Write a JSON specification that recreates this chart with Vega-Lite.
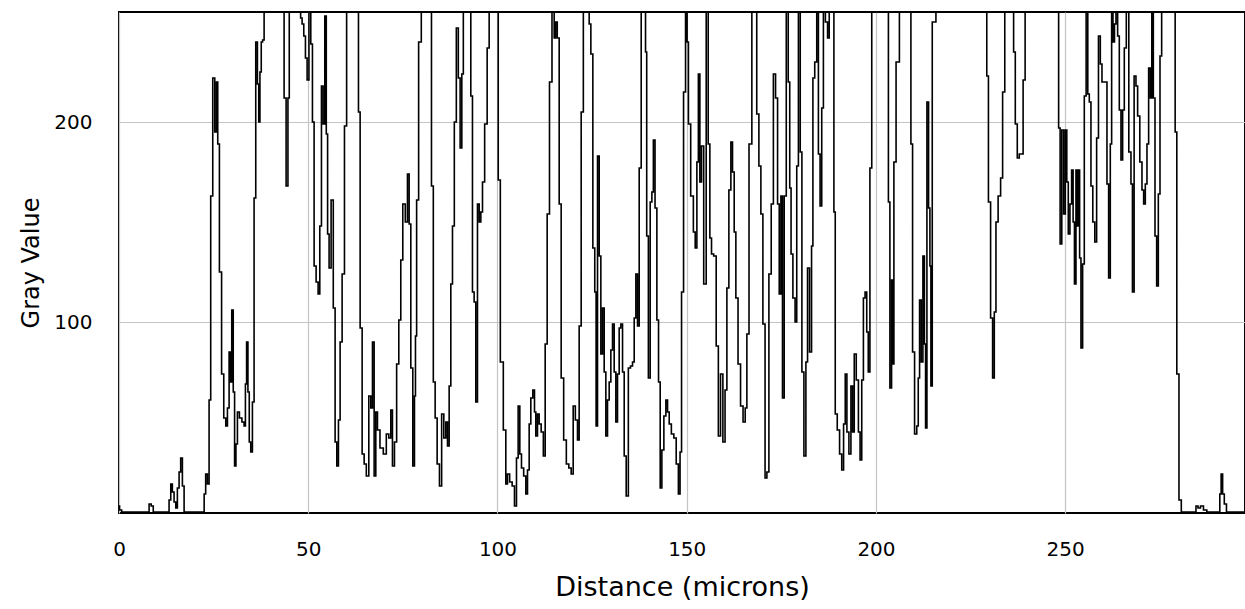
{
  "$schema": "https://vega.github.io/schema/vega-lite/v6.json",
  "width": 1126,
  "height": 501,
  "autosize": {"type": "none"},
  "padding": {"left": 119, "top": 12, "right": 0, "bottom": 96},
  "background": "white",
  "config": {
    "view": {"stroke": "black", "strokeWidth": 2},
    "axis": {
      "domain": false,
      "ticks": false,
      "tickSize": 0,
      "grid": true,
      "gridColor": "#c4c4c4",
      "gridWidth": 1.2,
      "labelFont": "DejaVu Sans",
      "labelFontSize": 20,
      "labelColor": "black",
      "titleFont": "DejaVu Sans",
      "titleFontWeight": "normal",
      "titleColor": "black"
    }
  },
  "data": {
    "values": [
      {"distance": 0, "gray": 8}, {"distance": 0.3, "gray": 6}, {"distance": 1.1, "gray": 5}, {"distance": 7.7, "gray": 5},
      {"distance": 8.2, "gray": 9}, {"distance": 8.8, "gray": 8}, {"distance": 9.3, "gray": 5}, {"distance": 13.0, "gray": 5},
      {"distance": 13.45, "gray": 11}, {"distance": 13.9, "gray": 19}, {"distance": 14.3, "gray": 15}, {"distance": 14.8, "gray": 10},
      {"distance": 15.2, "gray": 7}, {"distance": 15.65, "gray": 17}, {"distance": 16.1, "gray": 25}, {"distance": 16.5, "gray": 32},
      {"distance": 17.0, "gray": 18}, {"distance": 17.4, "gray": 5}, {"distance": 22.3, "gray": 5}, {"distance": 22.7, "gray": 14},
      {"distance": 23.1, "gray": 24}, {"distance": 23.6, "gray": 19}, {"distance": 24.0, "gray": 61}, {"distance": 24.46, "gray": 163},
      {"distance": 25.08, "gray": 222}, {"distance": 25.52, "gray": 195}, {"distance": 25.96, "gray": 220}, {"distance": 26.22, "gray": 189},
      {"distance": 26.84, "gray": 125}, {"distance": 27.37, "gray": 74}, {"distance": 27.99, "gray": 52}, {"distance": 28.43, "gray": 48},
      {"distance": 28.87, "gray": 57}, {"distance": 29.31, "gray": 85}, {"distance": 29.57, "gray": 70}, {"distance": 30.01, "gray": 106},
      {"distance": 30.36, "gray": 65}, {"distance": 30.72, "gray": 28}, {"distance": 31.07, "gray": 39}, {"distance": 31.51, "gray": 55},
      {"distance": 32.12, "gray": 52}, {"distance": 32.83, "gray": 50}, {"distance": 33.27, "gray": 48}, {"distance": 33.53, "gray": 69},
      {"distance": 33.89, "gray": 90}, {"distance": 34.24, "gray": 65}, {"distance": 34.59, "gray": 40}, {"distance": 35.03, "gray": 35},
      {"distance": 35.47, "gray": 60}, {"distance": 35.91, "gray": 162}, {"distance": 36.35, "gray": 240}, {"distance": 36.79, "gray": 219},
      {"distance": 37.06, "gray": 200}, {"distance": 37.41, "gray": 225}, {"distance": 37.76, "gray": 240}, {"distance": 38.12, "gray": 241},
      {"distance": 38.56, "gray": 255}, {"distance": 43.4, "gray": 255}, {"distance": 43.84, "gray": 212}, {"distance": 44.46, "gray": 168},
      {"distance": 44.81, "gray": 212}, {"distance": 45.16, "gray": 255}, {"distance": 47.81, "gray": 255}, {"distance": 48.16, "gray": 252},
      {"distance": 48.6, "gray": 249}, {"distance": 49.04, "gray": 243}, {"distance": 49.48, "gray": 232}, {"distance": 49.92, "gray": 221},
      {"distance": 50.45, "gray": 255}, {"distance": 50.89, "gray": 239}, {"distance": 51.33, "gray": 200}, {"distance": 51.77, "gray": 128},
      {"distance": 52.39, "gray": 120}, {"distance": 52.83, "gray": 114}, {"distance": 53.27, "gray": 148}, {"distance": 53.71, "gray": 218},
      {"distance": 54.15, "gray": 199}, {"distance": 54.59, "gray": 253}, {"distance": 54.94, "gray": 194}, {"distance": 55.29, "gray": 144},
      {"distance": 55.73, "gray": 127}, {"distance": 56.35, "gray": 161}, {"distance": 56.88, "gray": 107}, {"distance": 57.32, "gray": 40},
      {"distance": 57.76, "gray": 28}, {"distance": 58.2, "gray": 51}, {"distance": 58.64, "gray": 90}, {"distance": 59.26, "gray": 124},
      {"distance": 59.88, "gray": 198}, {"distance": 60.4, "gray": 255}, {"distance": 63.05, "gray": 255}, {"distance": 63.49, "gray": 205},
      {"distance": 63.93, "gray": 97}, {"distance": 64.55, "gray": 34}, {"distance": 64.99, "gray": 29}, {"distance": 65.69, "gray": 23},
      {"distance": 66.31, "gray": 63}, {"distance": 66.75, "gray": 57}, {"distance": 67.19, "gray": 90}, {"distance": 67.63, "gray": 23},
      {"distance": 68.07, "gray": 55}, {"distance": 68.51, "gray": 46}, {"distance": 69.39, "gray": 37}, {"distance": 70.27, "gray": 34},
      {"distance": 70.98, "gray": 44}, {"distance": 71.59, "gray": 42}, {"distance": 72.03, "gray": 56}, {"distance": 72.47, "gray": 28},
      {"distance": 73.09, "gray": 40}, {"distance": 73.62, "gray": 79}, {"distance": 74.23, "gray": 101}, {"distance": 74.67, "gray": 131},
      {"distance": 75.29, "gray": 159}, {"distance": 75.99, "gray": 150}, {"distance": 76.44, "gray": 174}, {"distance": 76.88, "gray": 149},
      {"distance": 77.32, "gray": 77}, {"distance": 77.93, "gray": 28}, {"distance": 78.2, "gray": 63}, {"distance": 78.46, "gray": 93},
      {"distance": 78.81, "gray": 161}, {"distance": 79.52, "gray": 240}, {"distance": 80.22, "gray": 255}, {"distance": 82.34, "gray": 255},
      {"distance": 82.78, "gray": 168}, {"distance": 83.31, "gray": 70}, {"distance": 83.75, "gray": 52}, {"distance": 84.36, "gray": 29},
      {"distance": 84.98, "gray": 18}, {"distance": 85.51, "gray": 54}, {"distance": 86.13, "gray": 42}, {"distance": 86.57, "gray": 50},
      {"distance": 87.01, "gray": 38}, {"distance": 87.45, "gray": 68}, {"distance": 87.89, "gray": 119}, {"distance": 88.33, "gray": 148},
      {"distance": 88.86, "gray": 200}, {"distance": 89.39, "gray": 247}, {"distance": 89.91, "gray": 222}, {"distance": 90.35, "gray": 187},
      {"distance": 90.8, "gray": 224}, {"distance": 91.15, "gray": 255}, {"distance": 92.73, "gray": 255}, {"distance": 93.17, "gray": 213},
      {"distance": 93.61, "gray": 115}, {"distance": 94.05, "gray": 110}, {"distance": 94.49, "gray": 60}, {"distance": 94.94, "gray": 159},
      {"distance": 95.38, "gray": 150}, {"distance": 95.82, "gray": 155}, {"distance": 96.26, "gray": 170}, {"distance": 96.96, "gray": 199},
      {"distance": 97.58, "gray": 237}, {"distance": 98.02, "gray": 255}, {"distance": 100.0, "gray": 255}, {"distance": 100.4, "gray": 171},
      {"distance": 101.1, "gray": 80}, {"distance": 101.98, "gray": 46}, {"distance": 102.42, "gray": 19}, {"distance": 102.86, "gray": 24},
      {"distance": 103.57, "gray": 20}, {"distance": 104.18, "gray": 18}, {"distance": 104.8, "gray": 8}, {"distance": 105.24, "gray": 32},
      {"distance": 105.68, "gray": 58}, {"distance": 106.12, "gray": 34}, {"distance": 106.56, "gray": 27}, {"distance": 107.27, "gray": 23},
      {"distance": 107.71, "gray": 14}, {"distance": 108.15, "gray": 26}, {"distance": 108.59, "gray": 49}, {"distance": 109.03, "gray": 62},
      {"distance": 109.65, "gray": 66}, {"distance": 109.91, "gray": 55}, {"distance": 110.35, "gray": 43}, {"distance": 110.79, "gray": 54},
      {"distance": 111.23, "gray": 49}, {"distance": 111.85, "gray": 45}, {"distance": 112.38, "gray": 33}, {"distance": 112.82, "gray": 89},
      {"distance": 113.43, "gray": 154}, {"distance": 114.05, "gray": 220}, {"distance": 114.75, "gray": 255}, {"distance": 115.2, "gray": 242},
      {"distance": 115.5, "gray": 250}, {"distance": 116.08, "gray": 242}, {"distance": 116.52, "gray": 159}, {"distance": 117.13, "gray": 72},
      {"distance": 117.84, "gray": 41}, {"distance": 118.54, "gray": 29}, {"distance": 119.16, "gray": 27}, {"distance": 119.78, "gray": 24},
      {"distance": 120.22, "gray": 58}, {"distance": 120.92, "gray": 51}, {"distance": 121.36, "gray": 41}, {"distance": 121.8, "gray": 98},
      {"distance": 122.42, "gray": 205}, {"distance": 122.95, "gray": 255}, {"distance": 124.0, "gray": 255}, {"distance": 124.45, "gray": 249},
      {"distance": 124.89, "gray": 234}, {"distance": 125.5, "gray": 137}, {"distance": 125.9, "gray": 115}, {"distance": 126.21, "gray": 48},
      {"distance": 126.65, "gray": 183}, {"distance": 127.09, "gray": 133}, {"distance": 127.53, "gray": 84}, {"distance": 127.97, "gray": 107},
      {"distance": 128.41, "gray": 75}, {"distance": 128.85, "gray": 43}, {"distance": 129.29, "gray": 61}, {"distance": 129.73, "gray": 70},
      {"distance": 130.17, "gray": 86}, {"distance": 130.61, "gray": 99}, {"distance": 131.05, "gray": 75}, {"distance": 131.49, "gray": 50},
      {"distance": 131.93, "gray": 74}, {"distance": 132.37, "gray": 97}, {"distance": 132.82, "gray": 99}, {"distance": 133.26, "gray": 75},
      {"distance": 133.7, "gray": 33}, {"distance": 134.31, "gray": 13}, {"distance": 134.84, "gray": 77}, {"distance": 135.46, "gray": 78},
      {"distance": 135.9, "gray": 80}, {"distance": 136.34, "gray": 102}, {"distance": 136.78, "gray": 124}, {"distance": 137.22, "gray": 98},
      {"distance": 137.66, "gray": 177}, {"distance": 138.28, "gray": 255}, {"distance": 138.98, "gray": 255}, {"distance": 139.25, "gray": 235},
      {"distance": 139.6, "gray": 143}, {"distance": 140.13, "gray": 72}, {"distance": 140.57, "gray": 160}, {"distance": 141.01, "gray": 165},
      {"distance": 141.36, "gray": 191}, {"distance": 141.89, "gray": 157}, {"distance": 142.33, "gray": 101}, {"distance": 142.77, "gray": 70},
      {"distance": 143.21, "gray": 17}, {"distance": 143.65, "gray": 36}, {"distance": 144.27, "gray": 53}, {"distance": 144.71, "gray": 61},
      {"distance": 145.15, "gray": 55}, {"distance": 145.59, "gray": 49}, {"distance": 146.29, "gray": 44}, {"distance": 146.91, "gray": 42},
      {"distance": 147.53, "gray": 29}, {"distance": 148.06, "gray": 14}, {"distance": 148.41, "gray": 35}, {"distance": 148.85, "gray": 115},
      {"distance": 149.47, "gray": 215}, {"distance": 149.9, "gray": 255}, {"distance": 150.3, "gray": 240}, {"distance": 150.6, "gray": 199},
      {"distance": 151.49, "gray": 163}, {"distance": 152.02, "gray": 145}, {"distance": 152.46, "gray": 137}, {"distance": 152.9, "gray": 180},
      {"distance": 153.25, "gray": 224}, {"distance": 153.69, "gray": 170}, {"distance": 154.13, "gray": 188}, {"distance": 154.84, "gray": 119},
      {"distance": 155.45, "gray": 255}, {"distance": 155.89, "gray": 189}, {"distance": 156.33, "gray": 142}, {"distance": 156.77, "gray": 134},
      {"distance": 157.48, "gray": 133}, {"distance": 158.09, "gray": 88}, {"distance": 158.62, "gray": 43}, {"distance": 159.24, "gray": 74},
      {"distance": 159.86, "gray": 40}, {"distance": 160.39, "gray": 66}, {"distance": 160.83, "gray": 117}, {"distance": 161.44, "gray": 166},
      {"distance": 161.88, "gray": 190}, {"distance": 162.32, "gray": 175}, {"distance": 162.76, "gray": 145}, {"distance": 163.2, "gray": 112},
      {"distance": 163.91, "gray": 79}, {"distance": 164.53, "gray": 58}, {"distance": 165.23, "gray": 50}, {"distance": 165.67, "gray": 57},
      {"distance": 166.11, "gray": 94}, {"distance": 166.8, "gray": 189}, {"distance": 167.61, "gray": 255}, {"distance": 168.23, "gray": 255},
      {"distance": 168.76, "gray": 204}, {"distance": 169.37, "gray": 178}, {"distance": 169.81, "gray": 154}, {"distance": 170.43, "gray": 99},
      {"distance": 170.96, "gray": 22}, {"distance": 171.4, "gray": 25}, {"distance": 172.02, "gray": 124}, {"distance": 172.63, "gray": 159},
      {"distance": 173.16, "gray": 224}, {"distance": 173.78, "gray": 212}, {"distance": 174.22, "gray": 159}, {"distance": 174.66, "gray": 114},
      {"distance": 175.1, "gray": 163}, {"distance": 175.5, "gray": 62}, {"distance": 176.0, "gray": 163}, {"distance": 176.6, "gray": 255},
      {"distance": 177.04, "gray": 220}, {"distance": 177.39, "gray": 167}, {"distance": 177.74, "gray": 134}, {"distance": 178.36, "gray": 112},
      {"distance": 178.89, "gray": 100}, {"distance": 179.24, "gray": 178}, {"distance": 179.77, "gray": 255}, {"distance": 180.21, "gray": 185},
      {"distance": 180.65, "gray": 75}, {"distance": 181.27, "gray": 33}, {"distance": 181.7, "gray": 80}, {"distance": 182.14, "gray": 127},
      {"distance": 182.76, "gray": 85}, {"distance": 183.2, "gray": 138}, {"distance": 183.47, "gray": 222}, {"distance": 184.17, "gray": 230},
      {"distance": 184.53, "gray": 255}, {"distance": 185.05, "gray": 184}, {"distance": 185.41, "gray": 158}, {"distance": 185.93, "gray": 207},
      {"distance": 186.29, "gray": 255}, {"distance": 186.99, "gray": 250}, {"distance": 187.43, "gray": 242}, {"distance": 187.87, "gray": 255},
      {"distance": 188.75, "gray": 255}, {"distance": 189.02, "gray": 155}, {"distance": 189.46, "gray": 54}, {"distance": 190.08, "gray": 46},
      {"distance": 190.69, "gray": 34}, {"distance": 191.22, "gray": 26}, {"distance": 191.66, "gray": 49}, {"distance": 192.1, "gray": 74},
      {"distance": 192.54, "gray": 45}, {"distance": 193.16, "gray": 34}, {"distance": 193.6, "gray": 68}, {"distance": 194.04, "gray": 45},
      {"distance": 194.48, "gray": 84}, {"distance": 195.1, "gray": 71}, {"distance": 195.62, "gray": 45}, {"distance": 195.98, "gray": 31},
      {"distance": 196.5, "gray": 71}, {"distance": 196.86, "gray": 112}, {"distance": 197.38, "gray": 115}, {"distance": 197.74, "gray": 95},
      {"distance": 198.18, "gray": 75}, {"distance": 198.62, "gray": 177}, {"distance": 199.15, "gray": 255}, {"distance": 203.11, "gray": 255},
      {"distance": 203.46, "gray": 160}, {"distance": 203.9, "gray": 67}, {"distance": 204.34, "gray": 121}, {"distance": 204.6, "gray": 79},
      {"distance": 204.87, "gray": 180}, {"distance": 205.75, "gray": 230}, {"distance": 206.63, "gray": 255}, {"distance": 209.01, "gray": 255},
      {"distance": 209.45, "gray": 189}, {"distance": 209.89, "gray": 85}, {"distance": 210.51, "gray": 44}, {"distance": 211.04, "gray": 48},
      {"distance": 211.3, "gray": 72}, {"distance": 211.74, "gray": 111}, {"distance": 212.18, "gray": 80}, {"distance": 212.62, "gray": 133},
      {"distance": 212.97, "gray": 89}, {"distance": 213.24, "gray": 47}, {"distance": 213.68, "gray": 210}, {"distance": 214.12, "gray": 157},
      {"distance": 214.38, "gray": 128}, {"distance": 214.65, "gray": 68}, {"distance": 215.09, "gray": 250}, {"distance": 215.62, "gray": 250},
      {"distance": 216.06, "gray": 255}, {"distance": 229.1, "gray": 255}, {"distance": 229.45, "gray": 223}, {"distance": 229.98, "gray": 160},
      {"distance": 230.59, "gray": 102}, {"distance": 231.04, "gray": 72}, {"distance": 231.48, "gray": 105}, {"distance": 231.92, "gray": 150},
      {"distance": 232.62, "gray": 163}, {"distance": 233.24, "gray": 172}, {"distance": 233.68, "gray": 215}, {"distance": 234.38, "gray": 255},
      {"distance": 236.14, "gray": 255}, {"distance": 236.59, "gray": 235}, {"distance": 237.03, "gray": 199}, {"distance": 237.64, "gray": 182},
      {"distance": 238.08, "gray": 184}, {"distance": 238.61, "gray": 184}, {"distance": 239.14, "gray": 221}, {"distance": 239.67, "gray": 255},
      {"distance": 248.04, "gray": 255}, {"distance": 248.48, "gray": 197}, {"distance": 248.83, "gray": 139}, {"distance": 249.36, "gray": 196},
      {"distance": 249.8, "gray": 154}, {"distance": 250.24, "gray": 196}, {"distance": 250.59, "gray": 170}, {"distance": 251.03, "gray": 144},
      {"distance": 251.47, "gray": 159}, {"distance": 251.91, "gray": 176}, {"distance": 252.26, "gray": 150}, {"distance": 252.62, "gray": 119},
      {"distance": 253.06, "gray": 176}, {"distance": 253.32, "gray": 148}, {"distance": 253.67, "gray": 176}, {"distance": 253.94, "gray": 132},
      {"distance": 254.38, "gray": 87}, {"distance": 254.82, "gray": 129}, {"distance": 255.26, "gray": 213}, {"distance": 255.79, "gray": 255},
      {"distance": 256.14, "gray": 214}, {"distance": 256.58, "gray": 210}, {"distance": 257.02, "gray": 168}, {"distance": 257.55, "gray": 150},
      {"distance": 258.08, "gray": 140}, {"distance": 258.52, "gray": 192}, {"distance": 259.05, "gray": 243}, {"distance": 259.49, "gray": 229},
      {"distance": 259.93, "gray": 220}, {"distance": 260.37, "gray": 220}, {"distance": 260.81, "gray": 220}, {"distance": 261.25, "gray": 169},
      {"distance": 261.69, "gray": 122}, {"distance": 262.13, "gray": 189}, {"distance": 262.4, "gray": 255}, {"distance": 262.84, "gray": 240},
      {"distance": 263.19, "gray": 249}, {"distance": 263.63, "gray": 255}, {"distance": 264.07, "gray": 243}, {"distance": 264.51, "gray": 206},
      {"distance": 264.95, "gray": 181}, {"distance": 265.39, "gray": 206}, {"distance": 265.83, "gray": 237}, {"distance": 266.45, "gray": 255},
      {"distance": 267.15, "gray": 185}, {"distance": 267.59, "gray": 169}, {"distance": 267.94, "gray": 115}, {"distance": 268.47, "gray": 223},
      {"distance": 268.91, "gray": 218}, {"distance": 269.35, "gray": 203}, {"distance": 270.06, "gray": 180}, {"distance": 270.5, "gray": 166},
      {"distance": 270.94, "gray": 159}, {"distance": 271.38, "gray": 169}, {"distance": 271.82, "gray": 189}, {"distance": 272.26, "gray": 227},
      {"distance": 272.7, "gray": 212}, {"distance": 273.06, "gray": 255}, {"distance": 273.5, "gray": 212}, {"distance": 273.94, "gray": 143},
      {"distance": 274.38, "gray": 118}, {"distance": 274.82, "gray": 164}, {"distance": 275.26, "gray": 233}, {"distance": 275.7, "gray": 255},
      {"distance": 278.87, "gray": 255}, {"distance": 279.22, "gray": 195}, {"distance": 279.75, "gray": 74}, {"distance": 280.36, "gray": 11},
      {"distance": 280.98, "gray": 5}, {"distance": 284.33, "gray": 5}, {"distance": 284.77, "gray": 8}, {"distance": 285.39, "gray": 7},
      {"distance": 286.09, "gray": 8}, {"distance": 286.97, "gray": 6}, {"distance": 287.85, "gray": 5}, {"distance": 290.67, "gray": 5},
      {"distance": 291.02, "gray": 14}, {"distance": 291.37, "gray": 24}, {"distance": 291.81, "gray": 14}, {"distance": 292.25, "gray": 9},
      {"distance": 292.96, "gray": 5}, {"distance": 297.5, "gray": 5}
    ]
  },
  "mark": {"type": "line", "color": "black", "strokeWidth": 1.6, "interpolate": "step", "clip": true},
  "encoding": {
    "x": {
      "field": "distance",
      "type": "quantitative",
      "scale": {"domain": [0, 297.5], "nice": false, "zero": false},
      "axis": {"values": [0, 50, 100, 150, 200, 250], "title": "Distance (microns)", "titleFontSize": 27, "labelPadding": 26, "titlePadding": 15, "labelFlush": false}
    },
    "y": {
      "field": "gray",
      "type": "quantitative",
      "scale": {"domain": [4.5, 255], "nice": false, "zero": false},
      "axis": {"values": [100, 200], "title": "Gray Value", "titleFontSize": 24, "labelPadding": 27, "titlePadding": 10}
    }
  }
}
